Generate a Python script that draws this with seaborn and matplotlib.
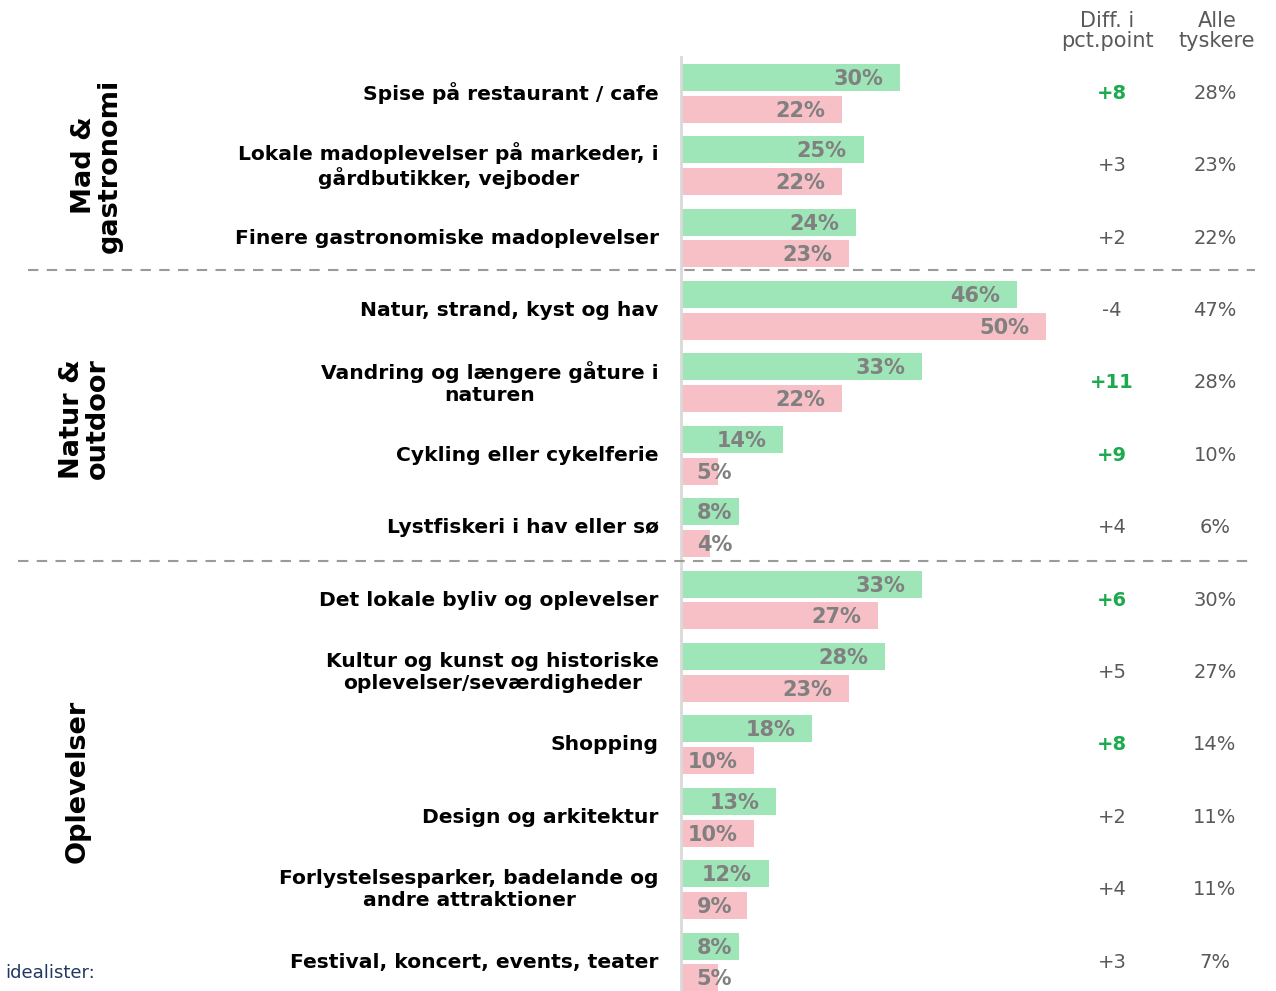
import matplotlib
matplotlib.use("Agg")
import matplotlib.pyplot as plt
from matplotlib.lines import Line2D
import pandas as pd
import seaborn as sns

# data
categories = [
    "Spise på restaurant / cafe",
    "Lokale madoplevelser på markeder, i\ngårdbutikker, vejboder",
    "Finere gastronomiske madoplevelser",
    "Natur, strand, kyst og hav",
    "Vandring og længere gåture i\nnaturen",
    "Cykling eller cykelferie",
    "Lystfiskeri i hav eller sø",
    "Det lokale byliv og oplevelser",
    "Kultur og kunst og historiske\noplevelser/seværdigheder",
    "Shopping",
    "Design og arkitektur",
    "Forlystelsesparker, badelande og\nandre attraktioner",
    "Festival, koncert, events, teater",
]
segment = [30, 25, 24, 46, 33, 14, 8, 33, 28, 18, 13, 12, 8]
others = [22, 22, 23, 50, 22, 5, 4, 27, 23, 10, 10, 9, 5]
diff = [8, 3, 2, -4, 11, 9, 4, 6, 5, 8, 2, 4, 3]
alle = [28, 23, 22, 47, 28, 10, 6, 30, 27, 14, 11, 11, 7]
groups = ["Mad &\ngastronomi", "Natur &\noutdoor", "Oplevelser"]
group_centers = [1, 4.5, 9.5]

GREEN = "#9EE5B8"
PINK = "#F7BFC6"
LABEL_GREY = "#808080"
TEXT_GREY = "#595959"
DIFF_GREEN = "#1DAA4F"

sns.set_style("white")
plt.rcParams["font.family"] = ["DejaVu Sans"]

df = pd.DataFrame({
    "cat": categories * 2,
    "value": segment + others,
    "group": ["seg"] * len(categories) + ["oth"] * len(categories),
})

fig = plt.figure(figsize=(12.76, 9.91), dpi=100)
ax = fig.add_axes([681 / 1276, 0, 595 / 1276, 934 / 991])

sns.barplot(data=df, y="cat", x="value", hue="group", orient="h",
            palette=[GREEN, PINK], width=0.88, gap=0.15, saturation=1,
            linewidth=0, legend=False, ax=ax)

ax.set_xlim(0, 595 / 7.3)
ax.set_ylim(12.4, -0.5)
ax.set_xlabel("")
ax.set_ylabel("")
ax.set_xticks([])
ax.set_yticks(range(len(categories)), labels=categories)
ax.tick_params(axis="y", length=0, pad=16)
for lbl in ax.get_yticklabels():
    lbl.set_fontsize(14.6)
    lbl.set_fontweight("bold")
    lbl.set_multialignment("center")
    lbl.set_verticalalignment("center")
    lbl.set_color("black")

for side in ["top", "right", "bottom"]:
    ax.spines[side].set_visible(False)
ax.spines["left"].set_color("#D9D9D9")
ax.spines["left"].set_linewidth(2)

# value labels inside the bars
for i, (a, b) in enumerate(zip(segment, others)):
    ax.text(max(a - 2.3, 7.0), i - 0.2, f"{a}%", ha="right", va="center",
            fontsize=15, fontweight="bold", color=LABEL_GREY)
    ax.text(max(b - 2.3, 7.0), i + 0.24, f"{b}%", ha="right", va="center",
            fontsize=15, fontweight="bold", color=LABEL_GREY)

# right hand columns
trans = matplotlib.transforms.blended_transform_factory(fig.transFigure, ax.transData)
for i, (d, t) in enumerate(zip(diff, alle)):
    txt = f"+{d}" if d > 0 else f"{d}"
    hi = d >= 6
    ax.text(1112 / 1276, i, txt, transform=trans, ha="center", va="center",
            fontsize=14, color=DIFF_GREEN if hi else TEXT_GREY,
            fontweight="bold" if hi else "normal")
    ax.text(1215 / 1276, i, f"{t}%", transform=trans, ha="center", va="center",
            fontsize=14, color=TEXT_GREY)

fig.text(1107 / 1276, 1 - 31 / 991, "Diff. i\npct.point", ha="center", va="center",
         fontsize=15, color=TEXT_GREY, linespacing=1.05)
fig.text(1217 / 1276, 1 - 31 / 991, "Alle\ntyskere", ha="center", va="center",
         fontsize=15, color=TEXT_GREY, linespacing=1.05)

# group labels
for name, yc, xp in zip(groups, group_centers, [97, 85, 78]):
    ax.text(xp / 1276, yc, name, transform=trans, rotation=90, ha="center",
            va="center", fontsize=19.5, fontweight="bold", color="black",
            multialignment="center", linespacing=1.0)

# dashed group separators
for y_px, x0 in [(270, 28), (561, 18)]:
    fig.add_artist(Line2D([x0 / 1276, 1255 / 1276], [1 - y_px / 991] * 2,
                          color="#9A9A9A", lw=1.5, linestyle=(0, (5, 4))))

fig.text(5 / 1276, 1 - 973 / 991, "idealister:", ha="left", va="center",
         fontsize=13, color="#1F3864")

fig.savefig("out.png", dpi=100)
